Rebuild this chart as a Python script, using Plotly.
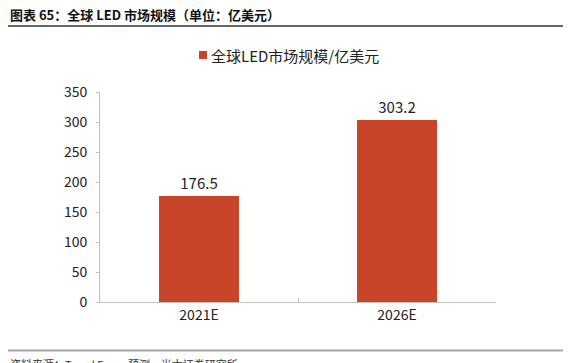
import plotly.graph_objects as go

categories = ["2021E", "2026E"]
values = [176.5, 303.2]
value_labels = ["176.5", "303.2"]
series_name = "全球LED市场规模/亿美元"
title_text = "<b>图表 65：全球 LED 市场规模（单位：亿美元）</b>"
source_text = "资料来源：Trend Force 预测，光大证券研究所"
y_ticks = [0, 50, 100, 150, 200, 250, 300, 350]

# the page body has an 8px margin, so the figure starts at (8, 8) on screen
OFF = 8
W, H = 571 - OFF, 363 - OFF
BAR = "#C8452A"
FONT = "Noto Sans CJK SC, Noto Sans, sans-serif"


def px(x):
    # screen pixel -> paper fraction (margins are zero)
    return (x - OFF) / W


def py(y):
    return 1 - (y - OFF) / H


fig = go.Figure()
fig.add_trace(go.Bar(
    x=categories, y=values, marker_color=BAR, marker_line_width=0,
    text=value_labels, textposition="outside", cliponaxis=False,
    textfont=dict(size=15, color="#222222", family=FONT),
    name=series_name, showlegend=False, hoverinfo="skip",
))

fig.update_layout(
    width=W, height=H,
    margin=dict(l=0, r=0, t=0, b=0, pad=0, autoexpand=False),
    plot_bgcolor="white", paper_bgcolor="white",
    bargap=0.596,
    font=dict(family=FONT, color="#222222"),
    xaxis=dict(domain=[px(100), px(496)], automargin=False, showline=True,
               linecolor="#BFBFBF", linewidth=1,
               ticks="inside", tickson="boundaries", ticklen=4, tickcolor="#BFBFBF",
               tickfont=dict(size=14, color="#222222"), showgrid=False),
    yaxis=dict(domain=[py(302), py(92)], automargin=False, range=[0, 350],
               tickvals=y_ticks, showline=True,
               linecolor="#BFBFBF", linewidth=1, ticks="outside", ticklen=3,
               tickcolor="#BFBFBF", tickfont=dict(size=14, color="#222222"),
               showgrid=False, zeroline=False, ticklabelstandoff=6),
)

shapes = [
    dict(type="line", xref="paper", yref="paper", x0=px(8), x1=px(566),
         y0=py(26), y1=py(26), line=dict(color="#333333", width=1.5)),
    dict(type="line", xref="paper", yref="paper", x0=px(8), x1=px(571),
         y0=py(350.5), y1=py(350.5), line=dict(color="#A6A6A6", width=2)),
    dict(type="rect", xref="paper", yref="paper", x0=px(199), x1=px(207),
         y0=py(59), y1=py(51), fillcolor=BAR, line=dict(width=0)),
]
fig.update_layout(shapes=shapes)

fig.add_annotation(text=title_text, xref="paper", yref="paper", x=px(8), y=py(15),
                   xanchor="left", yanchor="middle", showarrow=False,
                   font=dict(size=13, color="#111111", family=FONT))
fig.add_annotation(text=series_name, xref="paper", yref="paper", x=px(209), y=py(55),
                   xanchor="left", yanchor="middle", showarrow=False,
                   font=dict(size=15, color="#222222", family=FONT))
fig.add_annotation(text=source_text, xref="paper", yref="paper", x=px(8), y=py(354),
                   xanchor="left", yanchor="top", showarrow=False,
                   font=dict(size=11, color="#333333", family=FONT))

fig.write_html("out.html", config={"displayModeBar": False})
